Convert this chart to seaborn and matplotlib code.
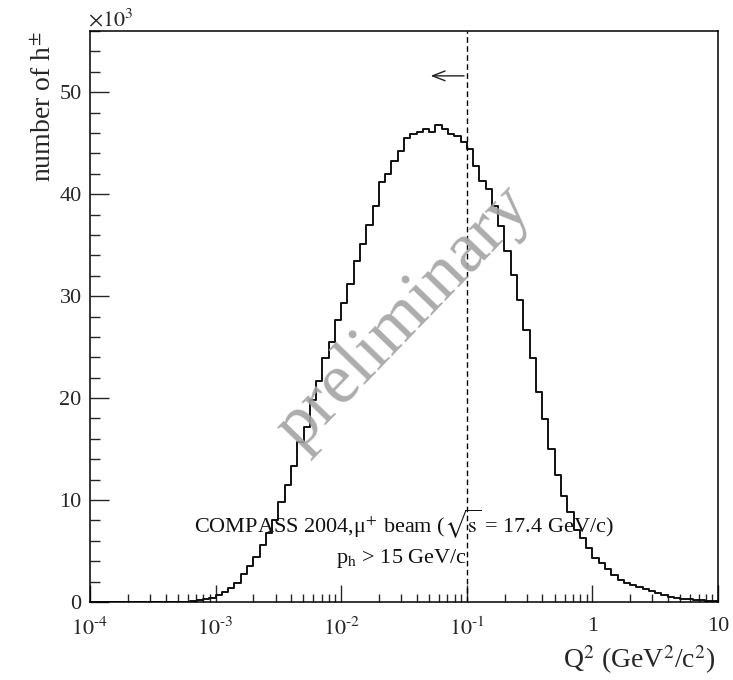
import numpy as np
import pandas as pd
import matplotlib
matplotlib.use("Agg")
import matplotlib.pyplot as plt
import matplotlib.ticker as mticker
import seaborn as sns

# ---- data (counts in units of 10^3, 20 log-bins per decade from 1e-4 to 10) ----
log_q2_min = -4.0
log_q2_max = 1.0
bins_per_decade = 20
counts_k = [
    0, 0, 0, 0, 0, 0, 0, 0, 0, 0,
    0, 0, 0, 0, 0, 0.03, 0.08, 0.15, 0.25, 0.4,
    0.65, 0.95, 1.4, 1.9, 2.7, 3.5, 4.45, 5.6, 6.75, 8.05,
    9.85, 11.5, 13.3, 15.65, 17.2, 19.85, 21.7, 23.9, 25.5, 27.7,
    29.3, 31.2, 33.4, 35.1, 37.0, 38.8, 41.2, 42.0, 43.25, 44.2,
    45.5, 45.9, 46.1, 46.4, 46.1, 46.75, 46.35, 45.9, 45.7, 45.15,
    44.4, 42.8, 41.3, 40.5, 38.8, 36.9, 34.4, 32.1, 29.6, 26.65,
    23.9, 20.55, 17.95, 15.0, 12.5, 10.4, 8.8, 7.1, 6.25, 5.3,
    4.35, 3.8, 3.2, 2.65, 2.2, 1.9, 1.7, 1.5, 1.3, 1.1,
    0.85, 0.7, 0.5, 0.4, 0.3, 0.25, 0.2, 0.15, 0.1, 0.08,
]
q2_cut = 0.1
arrow_end = 0.049
arrow_y = 51.6
x_tick_values = [1e-4, 1e-3, 1e-2, 1e-1, 1, 10]
x_tick_labels = [r"$10^{\text{-4}}$", r"$10^{\text{-3}}$", r"$10^{\text{-2}}$",
                 r"$10^{\text{-1}}$", "1", "10"]
y_tick_values = [0, 10, 20, 30, 40, 50]

binw = 1.0 / bins_per_decade
n_bins = len(counts_k)
log_centers = log_q2_min + binw * (np.arange(n_bins) + 0.5)
df = pd.DataFrame({"q2": 10 ** log_centers, "n": counts_k})

# ---- style ----
sns.set_style("ticks")
plt.rcParams["font.family"] = ["Liberation Serif", "DejaVu Serif"]
plt.rcParams["mathtext.fontset"] = "stix"

fig = plt.figure(figsize=(7.33, 6.80), dpi=100)
ax = fig.add_axes([90 / 733, 78 / 680, 628 / 733, 571 / 680])

sns.histplot(data=df, x="q2", weights="n", log_scale=True,
             binwidth=binw, binrange=(log_q2_min, log_q2_max),
             element="step", fill=False, color="#111111", linewidth=1.4, ax=ax)

ax.set_xlim(10 ** log_q2_min, 10 ** log_q2_max)
ax.set_ylim(0, 56)

ax.axvline(q2_cut, color="black", lw=1.0, ls=(0, (4, 2.5)))
ax.annotate("", xy=(arrow_end, arrow_y), xytext=(q2_cut, arrow_y),
            arrowprops=dict(arrowstyle="->,head_length=0.9,head_width=0.35",
                            lw=1.0, color="#222222"))

# ticks
ax.xaxis.set_major_locator(mticker.FixedLocator(x_tick_values))
ax.xaxis.set_major_formatter(mticker.FixedFormatter(x_tick_labels))
ax.xaxis.set_minor_locator(mticker.LogLocator(base=10, subs=np.arange(2, 10), numticks=20))
ax.xaxis.set_minor_formatter(mticker.NullFormatter())
ax.yaxis.set_major_locator(mticker.FixedLocator(y_tick_values))
ax.yaxis.set_minor_locator(mticker.MultipleLocator(2))

ax.tick_params(axis="x", which="major", direction="in", length=12, width=1.0,
               labelsize=16, pad=11, top=False)
ax.tick_params(axis="x", which="minor", direction="in", length=6, width=1.0, top=False)
ax.tick_params(axis="y", which="major", direction="in", length=13.5, width=1.0,
               labelsize=16, pad=6, right=False)
ax.tick_params(axis="y", which="minor", direction="in", length=7, width=1.0, right=False)
for s in ax.spines.values():
    s.set_linewidth(1.1)
    s.set_color("black")

ax.set_xlabel("")
ax.set_ylabel("")

# texts
fig.text(88 / 733, 1 - 20 / 680, r"$\times10^{3}$", fontsize=16, ha="left", va="center")
fig.text(45 / 733, 1 - 32 / 680, r"number of h$^{\pm}$", fontsize=20, rotation=90,
         ha="center", va="top")
fig.text(716 / 733, 1 - 660 / 680, r"Q$^{2}$ (GeV$^{2}$/c$^{2}$)", fontsize=20,
         ha="right", va="center")

ax.text(0.0313, 7.7, r"COMPASS 2004,μ$^{+}$ beam ($\sqrt{\mathrm{s}}$ = 17.4 GeV/c)",
        fontsize=16, ha="center", va="center", color="#111111")
ax.text(0.0305, 4.3, r"p$_{\mathrm{h}}$ > 15 GeV/c", fontsize=16, ha="center",
        va="center", color="#111111")
ax.text(0.0322, 27.9, "preliminary", fontsize=52, color="#a3a3a3", alpha=0.9,
        rotation=46, rotation_mode="anchor", ha="center", va="center")

fig.savefig("out.png", dpi=100)
